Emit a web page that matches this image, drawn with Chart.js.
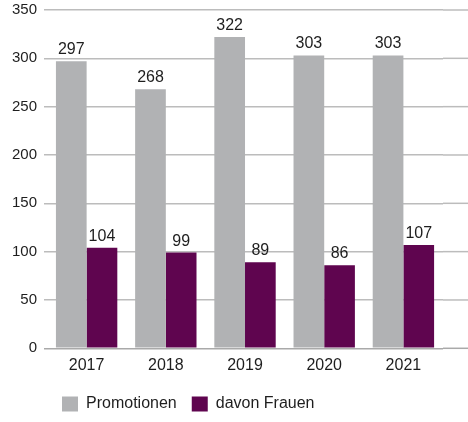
<!DOCTYPE html>
<html>
<head>
<meta charset="utf-8">
<script src="https://cdn.jsdelivr.net/npm/chart.js@4"></script>
<style>
  html, body { margin: 0; padding: 0; background: #fff; }
  #wrap { width: 468px; height: 422px; position: relative; }
</style>
</head>
<body>
<div id="wrap"><canvas id="promChart"></canvas></div>
<script>
var years = ["2017", "2018", "2019", "2020", "2021"];
var promotionen = [297, 268, 322, 303, 303];
var davonFrauen = [104, 99, 89, 86, 107];
var seriesNames = ["Promotionen", "davon Frauen"];
var yTicks = [0, 50, 100, 150, 200, 250, 300, 350];

var barColors = ["#b1b2b4", "#5f054f"];
var textColor = "#1e1e1e";
var gridColor = "#bcbcbc";

Chart.defaults.font.family = "'Liberation Sans', Arial, sans-serif";
Chart.defaults.font.size = 16;
Chart.defaults.color = textColor;

// grid lines run on past the last bar to the right edge
var gridToEdge = {
  id: "gridToEdge",
  beforeDatasetsDraw: function(chart) {
    var ctx = chart.ctx;
    var y = chart.scales.y;
    ctx.save();
    ctx.lineWidth = 1.5;
    y.ticks.forEach(function(t) {
      var py = y.getPixelForValue(t.value);
      ctx.strokeStyle = t.value === 0 ? "#a9a9a9" : gridColor;
      ctx.beginPath();
      ctx.moveTo(chart.chartArea.right, py);
      ctx.lineTo(chart.width, py);
      ctx.stroke();
    });
    ctx.restore();
  }
};

// value above each bar
var barValues = {
  id: "barValues",
  afterDatasetsDraw: function(chart) {
    var ctx = chart.ctx;
    ctx.save();
    ctx.font = "16px 'Liberation Sans', Arial, sans-serif";
    ctx.fillStyle = textColor;
    ctx.textAlign = "center";
    ctx.textBaseline = "alphabetic";
    chart.data.datasets.forEach(function(ds, i) {
      chart.getDatasetMeta(i).data.forEach(function(bar, j) {
        ctx.fillText(ds.data[j], bar.x, bar.y - 7);
      });
    });
    ctx.restore();
  }
};

new Chart("promChart", {
  type: "bar",
  data: {
    labels: years,
    datasets: [{
      label: seriesNames[0],
      data: promotionen,
      backgroundColor: barColors[0],
      borderWidth: 0,
      barPercentage: 1,
      categoryPercentage: 0.775
    }, {
      label: seriesNames[1],
      data: davonFrauen,
      backgroundColor: barColors[1],
      borderWidth: 0,
      barPercentage: 1,
      categoryPercentage: 0.775
    }]
  },
  options: {
    responsive: true,
    maintainAspectRatio: false,
    animation: false,
    layout: {
      padding: { left: 5, right: 25, top: 0, bottom: 0 }
    },
    scales: {
      x: {
        grid: { display: false, drawTicks: false },
        border: { display: false },
        ticks: { padding: 8, color: textColor, font: { size: 16 } },
        afterFit: function(s) { s.height -= 2.5; }
      },
      y: {
        min: 0,
        max: 350,
        afterBuildTicks: function(s) {
          s.ticks = yTicks.map(function(v) { return { value: v }; });
        },
        afterFit: function(s) { s.paddingTop = 10; },
        border: { display: false },
        grid: {
          color: function(c) { return c.tick && c.tick.value === 0 ? "#a9a9a9" : gridColor; },
          lineWidth: 1.5,
          drawTicks: true,
          tickLength: 3
        },
        ticks: { padding: 7, color: textColor, font: { size: 15 } }
      }
    },
    plugins: {
      legend: {
        position: "bottom",
        align: "start",
        fullSize: false,
        labels: {
          boxWidth: 16,
          boxHeight: 15,
          padding: 15,
          color: textColor,
          font: { size: 16 }
        }
      },
      tooltip: { enabled: false }
    }
  },
  plugins: [gridToEdge, barValues]
});
</script>
</body>
</html>
